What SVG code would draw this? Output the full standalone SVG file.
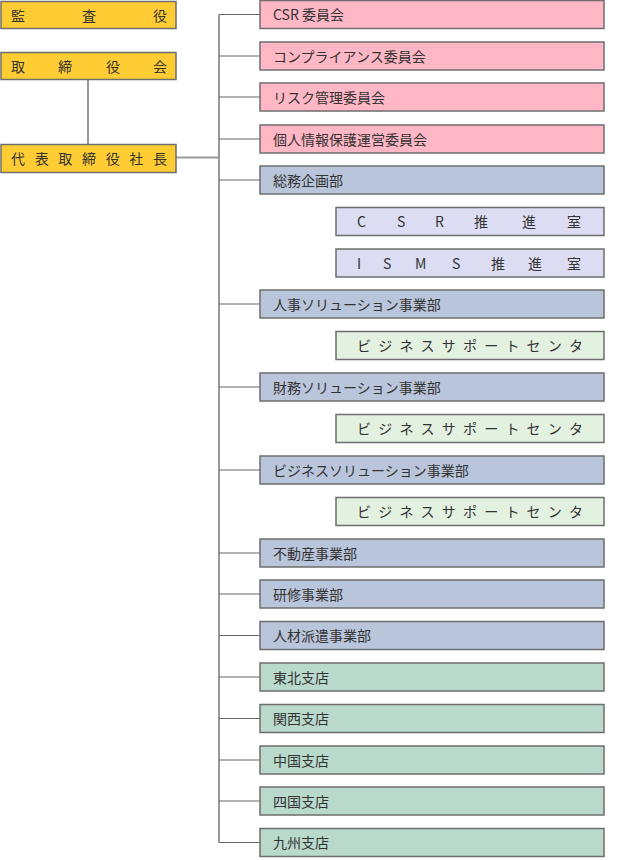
<svg xmlns="http://www.w3.org/2000/svg" width="640" height="860" viewBox="0 0 640 860">
<style>
text{font-family:"Noto Sans CJK JP","Noto Sans",sans-serif;font-size:14px;fill:#333}
rect{stroke:#6e6e6e;stroke-width:1.5}
.y{fill:#ffcc33}
.p{fill:#ffb6c5}
.b{fill:#b9c5da}
.l{fill:#dcdcf2}
.g{fill:#e3f1e1}
.t{fill:#b8d9cb}
.spine{stroke:#999;stroke-width:2;fill:none}
.br{stroke:#666;stroke-width:1;fill:none}
.sp{letter-spacing:7.2px}
</style>
<rect width="640" height="860" fill="#fff" style="stroke:none"/>
<g id="connectors">
<line class="spine" x1="88" y1="80" x2="88" y2="144"/>
<line class="spine" x1="176" y1="157.5" x2="219" y2="157.5"/>
<line class="spine" x1="219" y1="14.5" x2="219" y2="842.5"/>
<line class="br" x1="219" y1="14.5" x2="260" y2="14.5"/>
<line class="br" x1="219" y1="56" x2="260" y2="56"/>
<line class="br" x1="219" y1="97" x2="260" y2="97"/>
<line class="br" x1="219" y1="139" x2="260" y2="139"/>
<line class="br" x1="219" y1="180" x2="260" y2="180"/>
<line class="br" x1="219" y1="304" x2="260" y2="304"/>
<line class="br" x1="219" y1="387" x2="260" y2="387"/>
<line class="br" x1="219" y1="470" x2="260" y2="470"/>
<line class="br" x1="219" y1="553" x2="260" y2="553"/>
<line class="br" x1="219" y1="594" x2="260" y2="594"/>
<line class="br" x1="219" y1="635.5" x2="260" y2="635.5"/>
<line class="br" x1="219" y1="677" x2="260" y2="677"/>
<line class="br" x1="219" y1="718.5" x2="260" y2="718.5"/>
<line class="br" x1="219" y1="760" x2="260" y2="760"/>
<line class="br" x1="219" y1="801" x2="260" y2="801"/>
<line class="br" x1="219" y1="842.5" x2="260" y2="842.5"/>
</g>
<g id="kansayaku"><rect class="y" x="1" y="1.5" width="175" height="27"/><text x="11 82 153" y="21">監査役</text></g>
<g id="torishimariyakukai"><rect class="y" x="1" y="52.5" width="175" height="27"/><text x="11 58 106 153" y="72">取締役会</text></g>
<g id="shacho"><rect class="y" x="1" y="144.5" width="175" height="28"/><text x="11 34.7 58.3 82 105.7 129.3 153" y="164">代表取締役社長</text></g>
<g id="csr-iinkai"><rect class="p" x="260" y="0.5" width="344" height="28"/><text x="273" y="20">CSR 委員会</text></g>
<g id="compliance"><rect class="p" x="260" y="42" width="344" height="28"/><text x="273" y="61.5">コンプライアンス委員会</text></g>
<g id="risk"><rect class="p" x="260" y="83" width="344" height="28"/><text x="273" y="102.5">リスク管理委員会</text></g>
<g id="kojinjoho"><rect class="p" x="260" y="125" width="344" height="28"/><text x="273" y="144.5">個人情報保護運営委員会</text></g>
<g id="somu"><rect class="b" x="260" y="166" width="344" height="28"/><text x="273" y="185.5">総務企画部</text></g>
<g id="csr-suishin"><rect class="l" x="336" y="207.5" width="268" height="28"/><text x="357 397 435 474 522 567" y="227">CSR推進室</text></g>
<g id="isms-suishin"><rect class="l" x="336" y="249" width="268" height="28"/><text x="357 383 415 452 491 528 567" y="268.5">ISMS推進室</text></g>
<g id="jinji"><rect class="b" x="260" y="290" width="344" height="28"/><text x="273" y="309.5">人事ソリューション事業部</text></g>
<g id="bsc1"><rect class="g" x="336" y="331.5" width="268" height="28"/><text class="sp" x="357" y="351">ビジネスサポートセンタ</text></g>
<g id="zaimu"><rect class="b" x="260" y="373" width="344" height="28"/><text x="273" y="392.5">財務ソリューション事業部</text></g>
<g id="bsc2"><rect class="g" x="336" y="414.5" width="268" height="28"/><text class="sp" x="357" y="434">ビジネスサポートセンタ</text></g>
<g id="business"><rect class="b" x="260" y="456" width="344" height="28"/><text x="273" y="475.5">ビジネスソリューション事業部</text></g>
<g id="bsc3"><rect class="g" x="336" y="497.5" width="268" height="28"/><text class="sp" x="357" y="517">ビジネスサポートセンタ</text></g>
<g id="fudosan"><rect class="b" x="260" y="539" width="344" height="28"/><text x="273" y="558.5">不動産事業部</text></g>
<g id="kenshu"><rect class="b" x="260" y="580" width="344" height="28"/><text x="273" y="599.5">研修事業部</text></g>
<g id="jinzai"><rect class="b" x="260" y="621.5" width="344" height="28"/><text x="273" y="641">人材派遣事業部</text></g>
<g id="tohoku"><rect class="t" x="260" y="663" width="344" height="28"/><text x="273" y="682.5">東北支店</text></g>
<g id="kansai"><rect class="t" x="260" y="704.5" width="344" height="28"/><text x="273" y="724">関西支店</text></g>
<g id="chugoku"><rect class="t" x="260" y="746" width="344" height="28"/><text x="273" y="765.5">中国支店</text></g>
<g id="shikoku"><rect class="t" x="260" y="787" width="344" height="28"/><text x="273" y="806.5">四国支店</text></g>
<g id="kyushu"><rect class="t" x="260" y="828.5" width="344" height="28"/><text x="273" y="848">九州支店</text></g>
</svg>
